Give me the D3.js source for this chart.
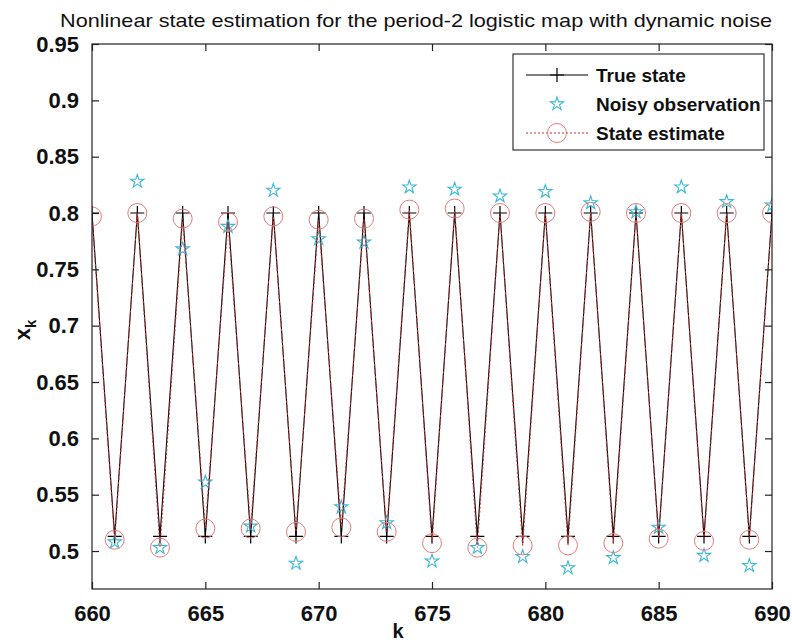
<!DOCTYPE html>
<html>
<head>
<meta charset="utf-8">
<script src="https://cdn.jsdelivr.net/npm/d3@7"></script>
<style>
  html, body { margin: 0; padding: 0; background: #ffffff; }
  svg { display: block; font-family: "Liberation Sans", Arial, sans-serif; }
</style>
</head>
<body>
<svg id="chart" width="792" height="642"></svg>
<script>
// ---------------- data ----------------
const steps = d3.range(660, 691);
const trueState = [0.800, 0.513, 0.800, 0.513, 0.800, 0.513, 0.800, 0.513, 0.800, 0.513,
                   0.800, 0.513, 0.800, 0.513, 0.800, 0.513, 0.800, 0.513, 0.800, 0.513,
                   0.800, 0.513, 0.800, 0.513, 0.800, 0.513, 0.800, 0.513, 0.800, 0.513, 0.800];
const noisyObs  = [null, 0.508, 0.828, 0.503, 0.768, 0.561, 0.788, 0.522, 0.820, 0.489,
                   0.777, 0.539, 0.774, 0.525, 0.823, 0.491, 0.821, 0.503, 0.815, 0.495,
                   0.819, 0.485, 0.809, 0.494, 0.801, 0.521, 0.823, 0.496, 0.810, 0.487, 0.807];
const stateEst  = [0.797, 0.510, 0.800, 0.503, 0.795, 0.520, 0.792, 0.520, 0.797, 0.517,
                   0.794, 0.521, 0.795, 0.517, 0.803, 0.507, 0.804, 0.503, 0.800, 0.505,
                   0.800, 0.505, 0.801, 0.507, 0.800, 0.511, 0.800, 0.509, 0.800, 0.510, 0.800];
const xTicks = [660, 665, 670, 675, 680, 685, 690];
const yTicks = [0.5, 0.55, 0.6, 0.65, 0.7, 0.75, 0.8, 0.85, 0.9, 0.95];
const yTickLabels = ["0.5", "0.55", "0.6", "0.65", "0.7", "0.75", "0.8", "0.85", "0.9", "0.95"];
const legendLabels = ["True state", "Noisy observation", "State estimate"];
const titleText = "Nonlinear state estimation for the period-2 logistic map with dynamic noise";

// ---------------- layout ----------------
const svg = d3.select("#chart");
const L = 92, R = 772, T = 44, B = 589;
const x = d3.scaleLinear().domain([660, 690]).range([L, R]);
const y = d3.scaleLinear().domain([0.4663, 0.95]).range([B, T]);

const TRUE_C = "#000000", OBS_C = "#3ab8d6", EST_C = "#d0302f", EST_MC = "#e67a7a";

// title
svg.append("text").attr("x", 416).attr("y", 27).attr("text-anchor", "middle")
  .attr("font-size", 19).attr("textLength", 712).attr("lengthAdjust", "spacingAndGlyphs")
  .attr("fill", "#111").text(titleText);

// clip
svg.append("defs").append("clipPath").attr("id", "clip")
  .append("rect").attr("x", L).attr("y", T).attr("width", R - L).attr("height", B - T);

const plot = svg.append("g").attr("clip-path", "url(#clip)");

// true state line + markers
const line = d3.line().defined(d => d[1] != null).x(d => x(d[0])).y(d => y(d[1]));
plot.append("path").datum(steps.map((k, i) => [k, trueState[i]]))
  .attr("d", line).attr("fill", "none").attr("stroke", TRUE_C).attr("stroke-width", 1.1);
function plusPath(cx, cy, s) { return `M${cx - s},${cy}H${cx + s}M${cx},${cy - s}V${cy + s}`; }
plot.append("g").selectAll("path").data(steps.map((k, i) => [k, trueState[i]]))
  .join("path").attr("d", d => plusPath(x(d[0]), y(d[1]), 7))
  .attr("stroke", TRUE_C).attr("stroke-width", 1.2).attr("fill", "none");

// noisy observations (pentagrams)
const star = d3.symbol().type(d3.symbolStar).size(55);
plot.append("g").selectAll("path").data(steps.map((k, i) => [k, noisyObs[i]]).filter(d => d[1] != null))
  .join("path").attr("d", star).attr("transform", d => `translate(${x(d[0])},${y(d[1])})`)
  .attr("fill", "none").attr("stroke", OBS_C).attr("stroke-width", 1.1);

// state estimate line + circles
plot.append("path").datum(steps.map((k, i) => [k, stateEst[i]]))
  .attr("d", line).attr("fill", "none").attr("stroke", EST_C).attr("stroke-width", 1.1)
  .attr("stroke-dasharray", "2,2");
plot.append("g").selectAll("circle").data(steps.map((k, i) => [k, stateEst[i]]))
  .join("circle").attr("cx", d => x(d[0])).attr("cy", d => y(d[1])).attr("r", 9.5)
  .attr("fill", "none").attr("stroke", EST_MC).attr("stroke-width", 1);

// axes box
svg.append("rect").attr("x", L).attr("y", T).attr("width", R - L).attr("height", B - T)
  .attr("fill", "none").attr("stroke", "#222").attr("stroke-width", 1.2);

const TL = 7;
const axB = d3.axisBottom(x).tickValues(xTicks).tickFormat(d3.format("d")).tickSize(-TL).tickPadding(16);
const gB = svg.append("g").attr("transform", `translate(0,${B})`).call(axB);
const axT = d3.axisTop(x).tickValues(xTicks).tickFormat("").tickSize(-TL);
const gT = svg.append("g").attr("transform", `translate(0,${T})`).call(axT);
const axL = d3.axisLeft(y).tickValues(yTicks).tickFormat((d, i) => yTickLabels[i]).tickSize(-TL).tickPadding(13);
const gL = svg.append("g").attr("transform", `translate(${L},0)`).call(axL);
const axR = d3.axisRight(y).tickValues(yTicks).tickFormat("").tickSize(-TL);
const gR = svg.append("g").attr("transform", `translate(${R},0)`).call(axR);
[gB, gT, gL, gR].forEach(g => {
  g.select(".domain").remove();
  g.selectAll(".tick line").attr("stroke", "#222").attr("stroke-width", 1.2);
  g.selectAll(".tick text").attr("font-size", 22).attr("font-weight", "bold")
    .attr("font-family", "'Liberation Sans', Arial, sans-serif").attr("fill", "#111");
});

// axis labels
svg.append("text").attr("x", 398).attr("y", 638).attr("text-anchor", "middle")
  .attr("font-size", 20).attr("font-weight", "bold").attr("fill", "#111").text("k");
const yl = svg.append("text").attr("transform", "translate(30,330) rotate(-90)")
  .attr("text-anchor", "middle").attr("font-size", 22).attr("font-weight", "bold").attr("fill", "#111");
yl.append("tspan").text("x");
yl.append("tspan").attr("font-size", 15).attr("dy", 6).text("k");

// legend
const lg = svg.append("g");
lg.append("rect").attr("x", 513).attr("y", 54).attr("width", 251).attr("height", 96)
  .attr("fill", "#fff").attr("stroke", "#222").attr("stroke-width", 1.1);
const rowsY = [75, 104, 133];
const lx1 = 526, lx2 = 588, lm = 557;
lg.append("line").attr("x1", lx1).attr("x2", lx2).attr("y1", rowsY[0]).attr("y2", rowsY[0]).attr("stroke", TRUE_C).attr("stroke-width", 1.1);
lg.append("path").attr("d", plusPath(lm, rowsY[0], 7)).attr("stroke", TRUE_C).attr("stroke-width", 1.2);
lg.append("path").attr("d", star).attr("transform", `translate(${lm},${rowsY[1]})`)
  .attr("fill", "none").attr("stroke", OBS_C).attr("stroke-width", 1.1);
lg.append("line").attr("x1", lx1).attr("x2", lx2).attr("y1", rowsY[2]).attr("y2", rowsY[2])
  .attr("stroke", EST_C).attr("stroke-width", 1.1).attr("stroke-dasharray", "2,2");
lg.append("circle").attr("cx", lm).attr("cy", rowsY[2]).attr("r", 9.5).attr("fill", "none").attr("stroke", EST_MC);
lg.selectAll("text.lt").data(legendLabels).join("text").attr("class", "lt")
  .attr("x", 596).attr("y", (d, i) => rowsY[i] + 7).attr("font-size", 19).attr("font-weight", "bold")
  .attr("fill", "#111").text(d => d);
</script>
</body>
</html>
